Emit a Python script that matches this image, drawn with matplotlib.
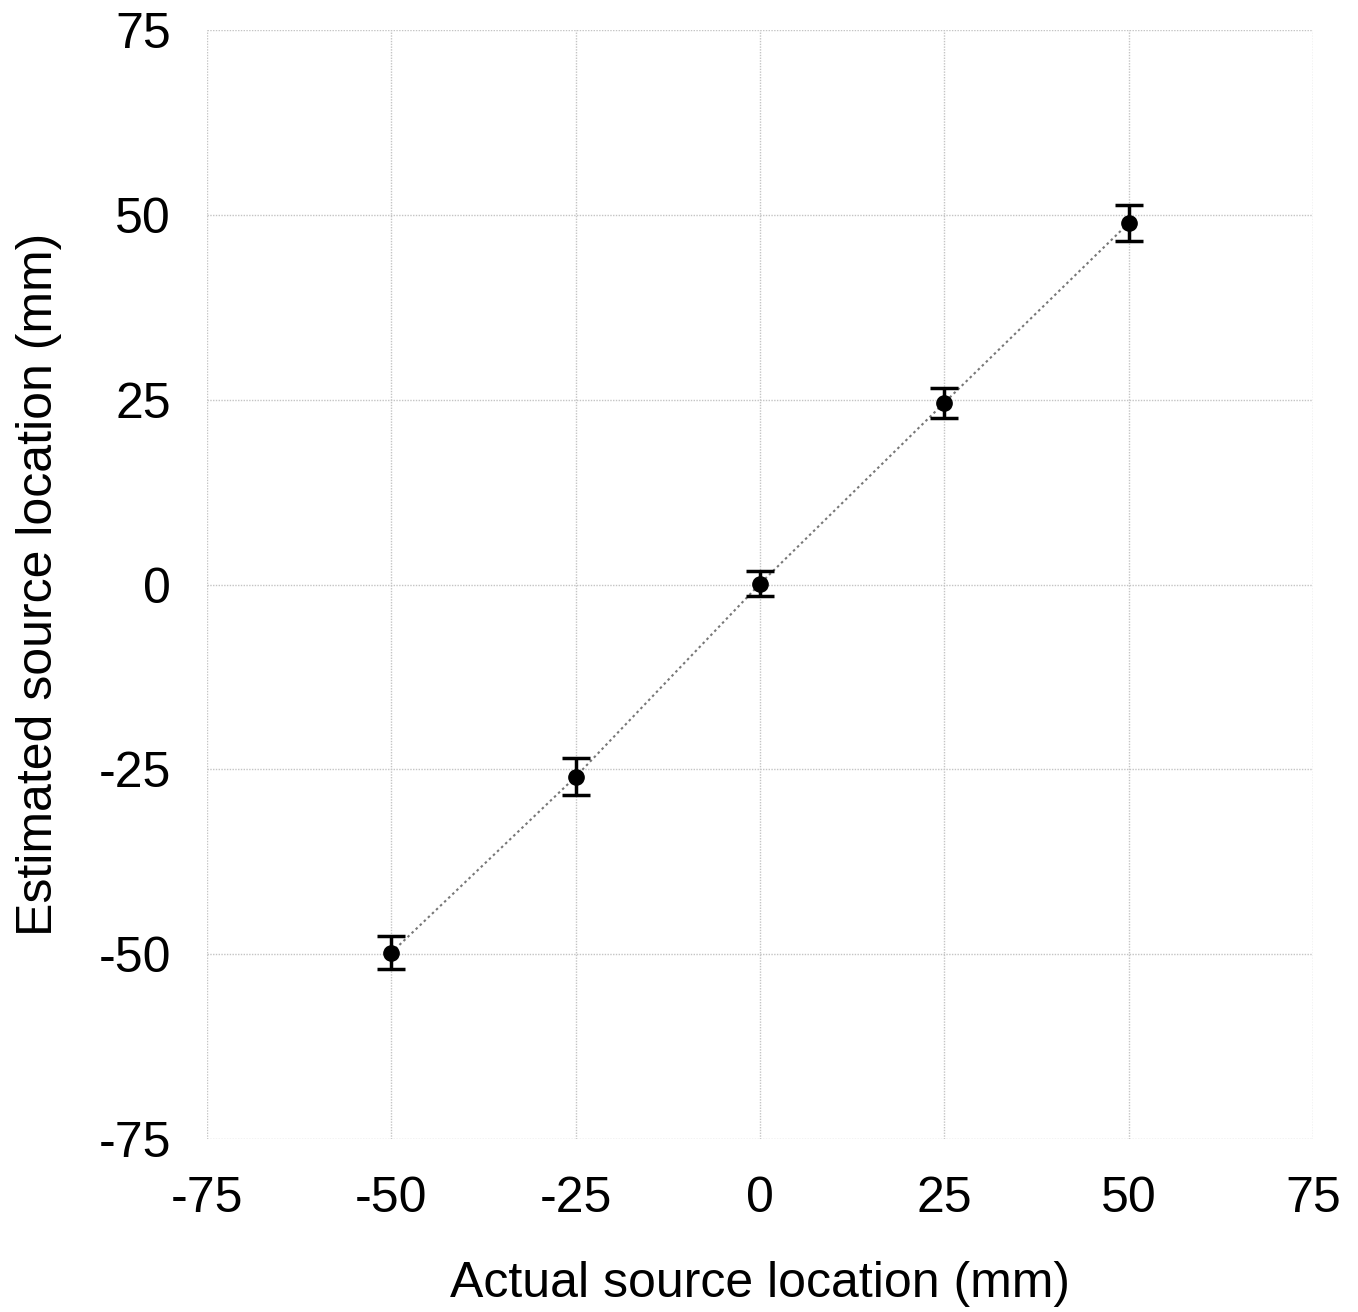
import matplotlib
matplotlib.use('Agg')
import matplotlib.pyplot as plt

plt.rcParams.update({
    'font.family': 'sans-serif',
    'font.sans-serif': ['Liberation Sans', 'DejaVu Sans'],
    'axes.unicode_minus': False,
})

# ── Data ────────────────────────────────────────────────────
actual = [-50, -25, 0, 25, 50]           # mm
estimated = [-49.8, -26.0, 0.1, 24.6, 48.9]  # mm
err = [2.2, 2.5, 1.7, 2.0, 2.4]          # mm
ticks = [-75, -50, -25, 0, 25, 50, 75]

fig = plt.figure(figsize=(13.58, 13.12), dpi=100)
ax = fig.add_axes([0.1524, 0.1319, 0.8145, 0.8451])

ax.plot(actual, estimated, linestyle=(0, (1.2, 1.5)), color='#777777', linewidth=1.5, zorder=2)
ax.errorbar(actual, estimated, yerr=err, fmt='o', color='black', markersize=11,
            elinewidth=2.5, capsize=10, capthick=2.5, zorder=3)

ax.set_xlim(-75, 75)
ax.set_ylim(-75, 75)
ax.set_xticks(ticks)
ax.set_yticks(ticks)
ax.set_xticklabels([str(t) for t in ticks])
ax.set_yticklabels([str(t) for t in ticks])
ax.tick_params(axis='x', length=0, labelsize=36, pad=27)
ax.tick_params(axis='y', length=0, labelsize=36, pad=26)
ax.grid(True, color='#c4c4c4', linestyle=(0, (1, 1)), linewidth=1.0)
ax.set_axisbelow(True)
for s in ax.spines.values():
    s.set_visible(False)

ax.set_xlabel('Actual source location (mm)', fontsize=36, labelpad=28)
ax.set_ylabel('Estimated source location (mm)', fontsize=36, labelpad=26)

fig.savefig('out.png', dpi=100)
